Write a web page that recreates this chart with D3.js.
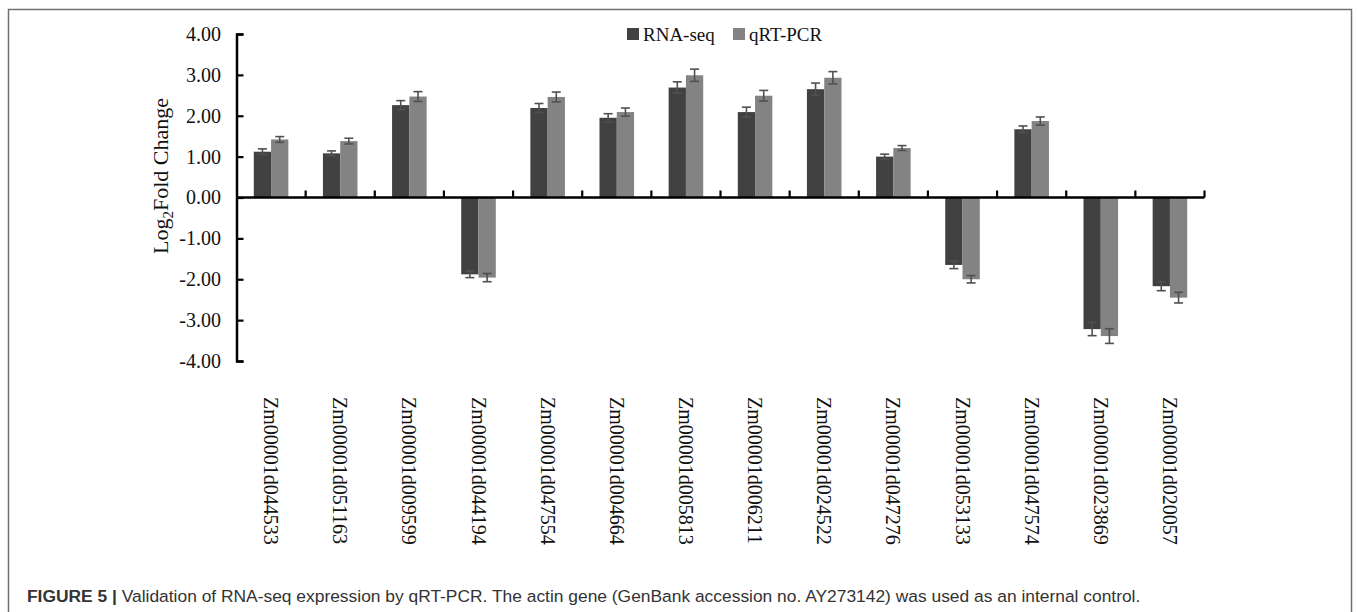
<!DOCTYPE html>
<html>
<head>
<meta charset="utf-8">
<script src="https://cdn.jsdelivr.net/npm/d3@7"></script>
<style>
  body { margin: 0; background: #fff; }
</style>
</head>
<body>
<div class="chart"></div>
<script>
var genes = ["Zm00001d044533", "Zm00001d051163", "Zm00001d009599", "Zm00001d044194",
  "Zm00001d047554", "Zm00001d004664", "Zm00001d005813", "Zm00001d006211",
  "Zm00001d024522", "Zm00001d047276", "Zm00001d053133", "Zm00001d047574",
  "Zm00001d023869", "Zm00001d020057"];
var seriesNames = ["RNA-seq", "qRT-PCR"];
var rnaSeq = [1.12, 1.08, 2.26, -1.88, 2.19, 1.95, 2.69, 2.09, 2.65, 1.00, -1.65, 1.67, -3.22, -2.17];
var qrtPcr = [1.42, 1.38, 2.47, -1.96, 2.46, 2.09, 2.99, 2.49, 2.93, 1.21, -2.00, 1.87, -3.39, -2.45];
var rnaSeqErr = [0.07, 0.06, 0.11, 0.08, 0.11, 0.10, 0.14, 0.12, 0.15, 0.06, 0.09, 0.08, 0.16, 0.11];
var qrtPcrErr = [0.07, 0.07, 0.12, 0.10, 0.12, 0.10, 0.15, 0.13, 0.15, 0.06, 0.09, 0.10, 0.18, 0.13];
var yTicks = [4, 3, 2, 1, 0, -1, -2, -3, -4];
var colors = ["#414141", "#838383"];

var serif = "Liberation Serif, Times New Roman, serif";
var svgWidth = 1358;
var svgHeight = 612;

var svg = d3.select(".chart")
  .append("svg")
  .attr("width", svgWidth)
  .attr("height", svgHeight);

// figure frame
svg.append("rect")
  .attr("x", 8.5)
  .attr("y", 9.5)
  .attr("width", 1343)
  .attr("height", 640)
  .attr("fill", "none")
  .attr("stroke", "#707070")
  .attr("stroke-width", 1.5);

var rows = genes.map(function(g, i) {
  return {
    gene: g,
    values: [
      { key: seriesNames[0], v: rnaSeq[i], e: rnaSeqErr[i] },
      { key: seriesNames[1], v: qrtPcr[i], e: qrtPcrErr[i] }
    ]
  };
});

var x = d3.scaleBand()
  .domain(genes)
  .range([236.5, 1204.5]);

var xInner = d3.scaleBand()
  .domain(seriesNames)
  .range([x.bandwidth() * 0.25, x.bandwidth() * 0.75]);

var y = d3.scaleLinear()
  .domain([-4, 4])
  .range([361, 34]);

var color = d3.scaleOrdinal().domain(seriesNames).range(colors);

// bars
var groups = svg.append("g").selectAll("g")
  .data(rows)
  .enter()
  .append("g")
  .attr("transform", d => `translate(${x(d.gene)},0)`);

groups.selectAll("rect")
  .data(d => d.values)
  .enter()
  .append("rect")
  .attr("x", d => xInner(d.key))
  .attr("width", xInner.bandwidth())
  .attr("y", d => y(Math.max(0, d.v)))
  .attr("height", d => Math.abs(y(d.v) - y(0)))
  .attr("fill", d => color(d.key));

// error bars
var err = groups.selectAll("g.err")
  .data(d => d.values)
  .enter()
  .append("g")
  .attr("class", "err")
  .attr("stroke", "#505050")
  .attr("stroke-width", 1.6);

err.append("line")
  .attr("x1", d => xInner(d.key) + xInner.bandwidth() / 2)
  .attr("x2", d => xInner(d.key) + xInner.bandwidth() / 2)
  .attr("y1", d => y(d.v - d.e))
  .attr("y2", d => y(d.v + d.e));

[-1, 1].forEach(function(s) {
  err.append("line")
    .attr("x1", d => xInner(d.key) + xInner.bandwidth() / 2 - 4.5)
    .attr("x2", d => xInner(d.key) + xInner.bandwidth() / 2 + 4.5)
    .attr("y1", d => y(d.v + s * d.e))
    .attr("y2", d => y(d.v + s * d.e));
});

// y axis
var leftAxis = d3.axisLeft(y)
  .tickValues(yTicks)
  .tickFormat(d => d3.format(".2f")(d).replace("\u2212", "-"))
  .tickSize(-7)
  .tickPadding(15.5);

var yAxisG = svg.append("g")
  .attr("transform", "translate(236.5,0)")
  .call(leftAxis);
yAxisG.select(".domain").attr("stroke-width", 2.5);
yAxisG.selectAll(".tick line").attr("stroke-width", 2.2);
yAxisG.selectAll(".tick text")
  .attr("font-family", serif)
  .attr("font-size", 20)
  .attr("fill", "#111");

// zero line with group ticks
var zeroG = svg.append("g");
zeroG.append("line")
  .attr("x1", 236.5)
  .attr("x2", x.range()[1])
  .attr("y1", y(0))
  .attr("y2", y(0))
  .attr("stroke", "#000")
  .attr("stroke-width", 2.5);

zeroG.selectAll("line.gt")
  .data(genes)
  .enter()
  .append("line")
  .attr("class", "gt")
  .attr("x1", d => x(d) + x.bandwidth())
  .attr("x2", d => x(d) + x.bandwidth())
  .attr("y1", y(0))
  .attr("y2", y(0) - 7)
  .attr("stroke", "#000")
  .attr("stroke-width", 2.2);

// gene labels
svg.append("g").selectAll("text")
  .data(genes)
  .enter()
  .append("text")
  .attr("transform", d => `translate(${x(d) + x.bandwidth() / 2},397) rotate(90)`)
  .attr("dy", "0.35em")
  .attr("font-family", serif)
  .attr("font-size", 20)
  .attr("fill", "#111")
  .text(d => d);

// y axis title
var yTitle = svg.append("text")
  .attr("transform", "rotate(-90)")
  .attr("x", -176)
  .attr("y", 168)
  .attr("text-anchor", "middle")
  .attr("font-family", serif)
  .attr("font-size", 22)
  .attr("fill", "#111");
yTitle.append("tspan").text("Log");
yTitle.append("tspan").attr("font-size", 15).attr("dy", 5).text("2");
yTitle.append("tspan").attr("dy", -5).text("Fold Change");

// legend
var legend = svg.append("g")
  .selectAll("g")
  .data(seriesNames)
  .enter()
  .append("g")
  .attr("transform", (d, i) => `translate(${i === 0 ? 627 : 733},28)`);

legend.append("rect")
  .attr("width", 12)
  .attr("height", 12)
  .attr("fill", d => color(d));

legend.append("text")
  .attr("x", 16)
  .attr("y", 6)
  .attr("dy", "0.35em")
  .attr("font-family", serif)
  .attr("font-size", 19)
  .attr("fill", "#111")
  .text(d => d);

// caption
var caption = svg.append("text")
  .attr("x", 27)
  .attr("y", 602)
  .attr("font-family", "Liberation Sans, Arial, sans-serif")
  .attr("font-size", 17.4)
  .attr("fill", "#333");
caption.append("tspan").attr("font-weight", "bold").text("FIGURE 5 | ");
caption.append("tspan").text("Validation of RNA-seq expression by qRT-PCR. The actin gene (GenBank accession no. AY273142) was used as an internal control.");
</script>
</body>
</html>
